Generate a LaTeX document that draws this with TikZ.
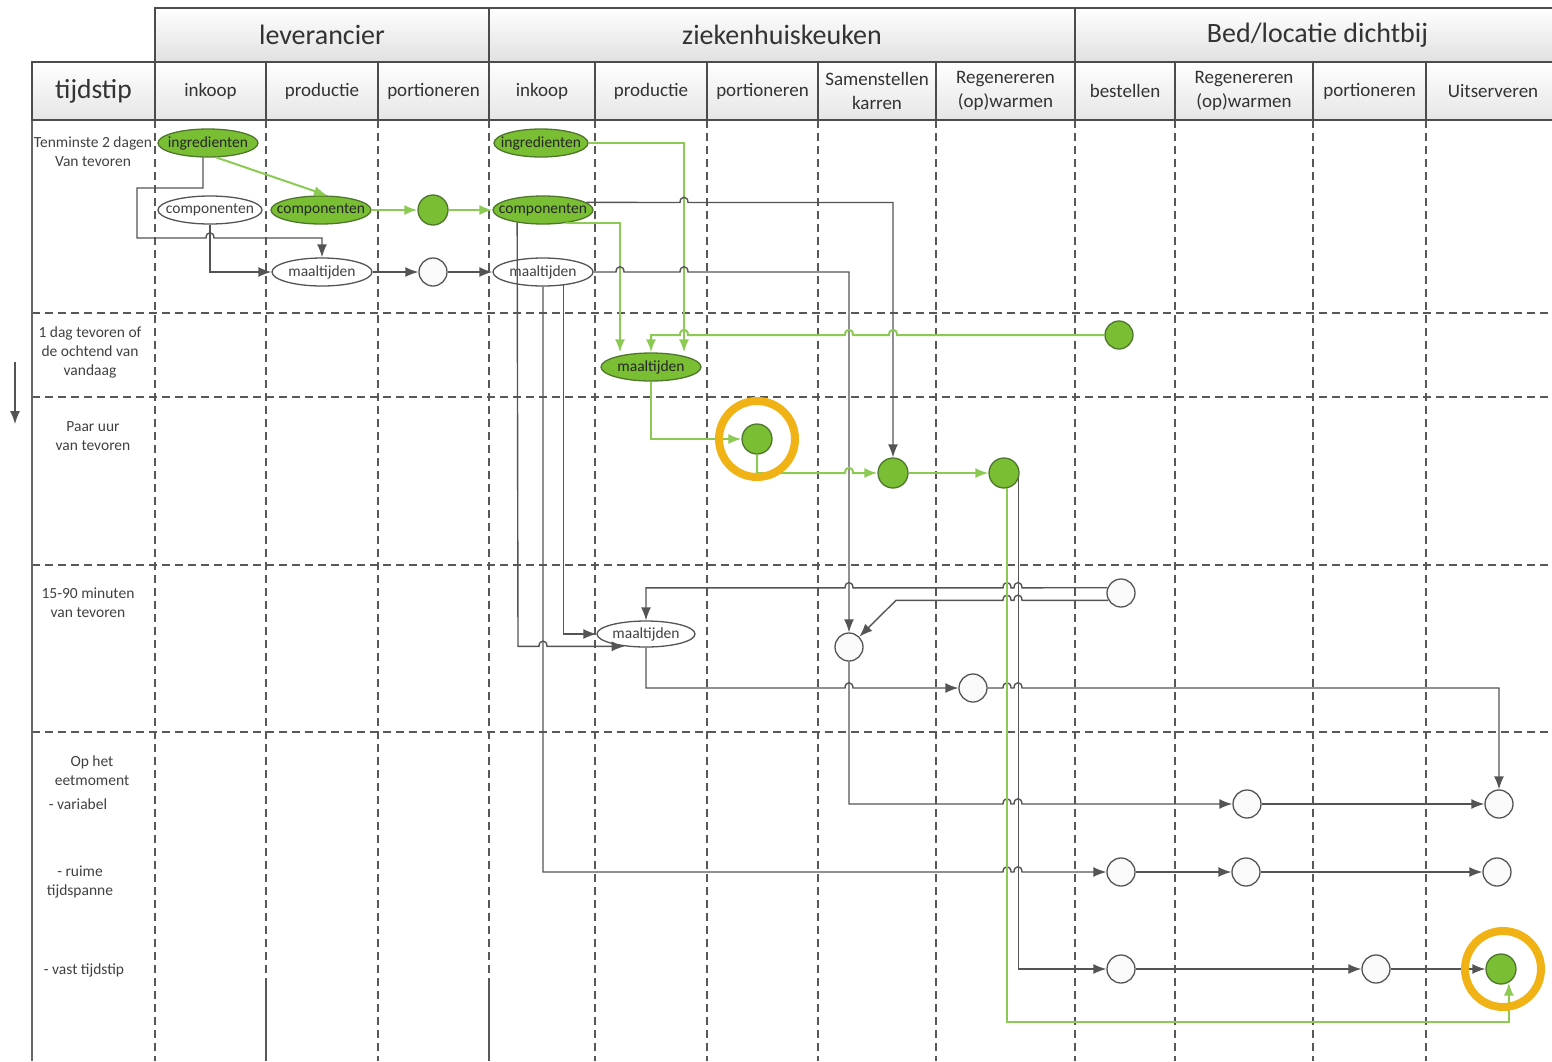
\documentclass[tikz,border=0pt]{standalone}
\usepackage{fontspec}
\setmainfont{Carlito}
\usetikzlibrary{shapes.geometric,arrows.meta}

\definecolor{groen}{RGB}{122,190,52}
\definecolor{donkergroen}{RGB}{78,118,44}
\definecolor{lijngroen}{RGB}{140,202,84}
\definecolor{oranje}{RGB}{240,178,20}
\definecolor{raster}{RGB}{88,88,88}
\definecolor{lijngrijs}{RGB}{84,84,84}

\newcommand{\hop}[1]{.. controls +(0,-7) and +(0,-7) .. ++(#1,0)}

\tikzset{
  kop/.style={draw=black!70, line width=1.6pt, top color=white, bottom color=black!12,
    text=black!80, minimum height=54pt, inner sep=0pt, font=\fontsize{28}{32}\selectfont},
  kolom/.style={draw=black!70, line width=1.6pt, top color=white, bottom color=black!10,
    text=black!80, minimum height=58pt, inner sep=0pt, align=center,
    font=\fontsize{19}{24}\selectfont},
  rasterlijn/.style={draw=raster, line width=1.4pt, dash pattern=on 8pt off 5pt},
  rijtekst/.style={align=center, text=black!75, inner sep=0pt, font=\fontsize{15.5}{19}\selectfont},
  ovaal/.style={ellipse, draw=lijngrijs, line width=1.3pt, fill=white, minimum width=100pt,
    minimum height=28pt, inner sep=0pt, text=black!75, font=\fontsize{15.5}{17}\selectfont},
  ovaalgroen/.style={ovaal, draw=donkergroen, fill=groen, text=black!85},
  punt/.style={circle, draw=lijngrijs, line width=1.3pt, fill=black!2, minimum size=28pt, inner sep=0pt},
  puntgroen/.style={punt, draw=donkergroen, fill=groen, minimum size=30pt},
  ring/.style={circle, draw=oranje, line width=8pt, minimum size=76pt},
  lijn/.style={draw=lijngrijs, line width=1.4pt, -{Latex[length=13pt,width=10pt]}},
  glijn/.style={lijn, draw=lijngroen, line width=2pt}
}

\begin{document}
\begin{tikzpicture}[x=1pt, y=-1pt]
  \useasboundingbox (0,0) rectangle (1552,1061);
  \clip (0,0) rectangle (1552,1061);

  % raster
  \foreach \x in {155,266,378,489,595,707,818,936,1075,1175,1313,1426}
    \draw[rasterlijn] (\x,120) -- (\x,1061);
  \foreach \y in {313,397,565,732}
    \draw[rasterlijn] (32,\y) -- (1552,\y);
  \draw[draw=black!60, line width=1.6pt] (32,120) -- (32,1061);
  \draw[draw=raster, line width=1.4pt] (266,985) -- (266,1061) (489,985) -- (489,1061);

  % koppen
  \node[kop, minimum width=334pt] (lev) at (322,35) {leverancier};
  \node[kop, minimum width=586pt] (zkh) at (782,35) {ziekenhuiskeuken};
  \node[kop, minimum width=485pt] (bed) at (1317.5,35) {Bed/locatie dichtbij};
  \node[kolom, minimum width=123pt, font=\fontsize{27.5}{30}\selectfont] (tijd) at (93.5,91) {tijdstip};
  \foreach \l/\r/\t [count=\i] in {155/266/inkoop, 266/378/productie, 378/489/portioneren,
      489/595/inkoop, 595/707/productie, 707/818/portioneren, 818/936/{Samenstellen\\karren},
      936/1075/{Regenereren\\(op)warmen}, 1075/1175/bestellen, 1175/1313/{Regenereren\\(op)warmen},
      1313/1426/portioneren, 1426/1560/Uitserveren}
    \node[kolom, minimum width={\r-\l}] (k\i) at ({(\l+\r)/2},91) {\t};

  % tijdstippen
  \node[rijtekst] (r1) at (93,152) {Tenminste 2 dagen\\Van tevoren};
  \node[rijtekst] (r2) at (90,352) {1 dag tevoren of\\de ochtend van\\vandaag};
  \node[rijtekst] (r3) at (93,436) {Paar uur\\van tevoren};
  \node[rijtekst] (r4) at (88,603) {15-90 minuten\\van tevoren};
  \node[rijtekst] (r5) at (92,771) {Op het\\eetmoment};
  \node[rijtekst] (r6) at (78,804) {- variabel};
  \node[rijtekst] (r7) at (80,882) {- ruime\\tijdspanne};
  \node[rijtekst] (r8) at (84,970) {- vast tijdstip};
  \coordinate (tijdA) at (15,362);
  \coordinate (tijdB) at (15,424);
  \draw[lijn, line width=1.2pt] (tijdA) -- (tijdB);

  % leverancier
  \node[ovaalgroen] (ingL) at (208,143) {\makebox[0pt]{ingredienten}};
  \node[ovaal, minimum width=104pt] (compL1) at (210,210) {\makebox[0pt]{componenten}};
  \node[ovaalgroen] (compL2) at (321,210) {\makebox[0pt]{componenten}};
  \node[ovaal] (maalL) at (322,272) {\makebox[0pt]{maaltijden}};
  \node[puntgroen] (pL1) at (433,210) {};
  \node[punt] (pL2) at (433,272) {};

  % ziekenhuiskeuken
  \node[ovaalgroen, minimum width=94pt] (ingZ) at (541,143) {\makebox[0pt]{ingredienten}};
  \node[ovaalgroen] (compZ) at (543,210) {\makebox[0pt]{componenten}};
  \node[ovaal] (maalZ) at (543,272) {\makebox[0pt]{maaltijden}};
  \node[ovaalgroen] (maalZg) at (651,367) {\makebox[0pt]{maaltijden}};
  \node[puntgroen] (pPort) at (757,439) {};
  \node[puntgroen] (pKar) at (893,473) {};
  \node[puntgroen] (pReg) at (1004,473) {};
  \node[ovaal, minimum width=98pt, minimum height=26pt] (maalZw) at (646,634) {\makebox[0pt]{maaltijden}};
  \node[punt] (pKar2) at (849,647) {};
  \node[punt] (pReg2) at (973,688) {};

  % bed/locatie
  \node[puntgroen, minimum size=28pt] (pBest1) at (1119,335) {};
  \node[punt] (pBest2) at (1121,593) {};
  \node[punt] (pRegV) at (1247,804) {};
  \node[punt] (pUitV) at (1499,804) {};
  \node[punt] (pBestR) at (1121,872) {};
  \node[punt] (pRegR) at (1246,872) {};
  \node[punt] (pUitR) at (1497,872) {};
  \node[punt] (pBestT) at (1121,969) {};
  \node[punt] (pPortT) at (1376,969) {};
  \node[puntgroen] (pUitT) at (1501,969) {};

  % stromen leverancier
  \draw[lijn] ([xshift=-5pt]ingL.south) -- (203,188) -- (137,188) -- (137,238) -- (206,238) \hop{8} -| (maalL.north);
  \draw[lijn] (compL1.south) |- (maalL.west);
  \draw[lijn] (maalL) -- (pL2);
  \draw[lijn] (pL2) -- (maalZ);
  \draw[glijn] (ingL.-60) -- ([xshift=6pt]compL2.north);
  \draw[glijn] (compL2) -- (pL1);
  \draw[glijn] (pL1) -- (compZ);

  % stromen keuken
  \draw[glijn] (ingZ.east) -| ([xshift=33pt]maalZg.north);
  \draw[glijn] (compZ.-30) -| ([xshift=-31pt]maalZg.north);
  \draw[lijn] (compZ.10) -- (680,202.5) \hop{8} -| (pKar.north);
  \draw[lijn] (maalZ.east) -- (616,272) \hop{8} -- (680,272) \hop{8} -| (pKar2.north);
  \draw[glijn] (pBest1.west) -- (897,335) \hop{-8} -- (853,335) \hop{-8} -- (688,335) \hop{-8} -| (maalZg.north);
  \draw[glijn] (maalZg.south) |- (pPort.west);
  \draw[glijn] (pPort.south) -- (757,473) -- (845,473) \hop{8} -- (pKar.west);
  \draw[glijn] (pKar) -- (pReg);
  \draw[lijn] (compZ.206) -- (518,646.3) -- (539,646.3) \hop{8} -- (maalZw.210);
  \draw[lijn] (maalZ.-33) |- (maalZw.west);
  \draw[lijn] (pBest2.159) -- (1022,587.8) \hop{-8} -- (1011,587.8) \hop{-8} -- (853,587.8) \hop{-8} -| (maalZw.north);
  \draw[lijn] (pBest2.210) -- (1022,600.3) \hop{-8} -- (1011,600.3) \hop{-8} -- (896,600.3) -- (pKar2.45);
  \draw[lijn] (maalZw.south) -- (646,688) -- (845,688) \hop{8} -- (pReg2.west);

  % stromen naar bed
  \draw[lijn] (pReg2.east) -- (1003,688) \hop{8} -- (1014,688) \hop{8} -| (pUitV.north);
  \draw[lijn] (pKar2.south) -- (849,804) -- (1003,804) \hop{8} -- (1014,804) \hop{8} -- (pRegV.west);
  \draw[lijn] (pRegV) -- (pUitV);
  \draw[lijn] (maalZ.south) -- (543,872) -- (1003,872) \hop{8} -- (1014,872) \hop{8} -- (pBestR.west);
  \draw[lijn] (pBestR) -- (pRegR);
  \draw[lijn] (pRegR) -- (pUitR);
  \draw[lijn] (pReg.-20) |- (pBestT.west);
  \draw[lijn] (pBestT) -- (pPortT);
  \draw[lijn] (pPortT) -- (pUitT);
  \draw[glijn] (pReg.-80) -- ++(0,534) -| (pUitT.-60);

  % markeringen
  \node[ring] (ring1) at (pPort) {};
  \node[ring] (ring2) at (1503,969) {};
\end{tikzpicture}
\end{document}
